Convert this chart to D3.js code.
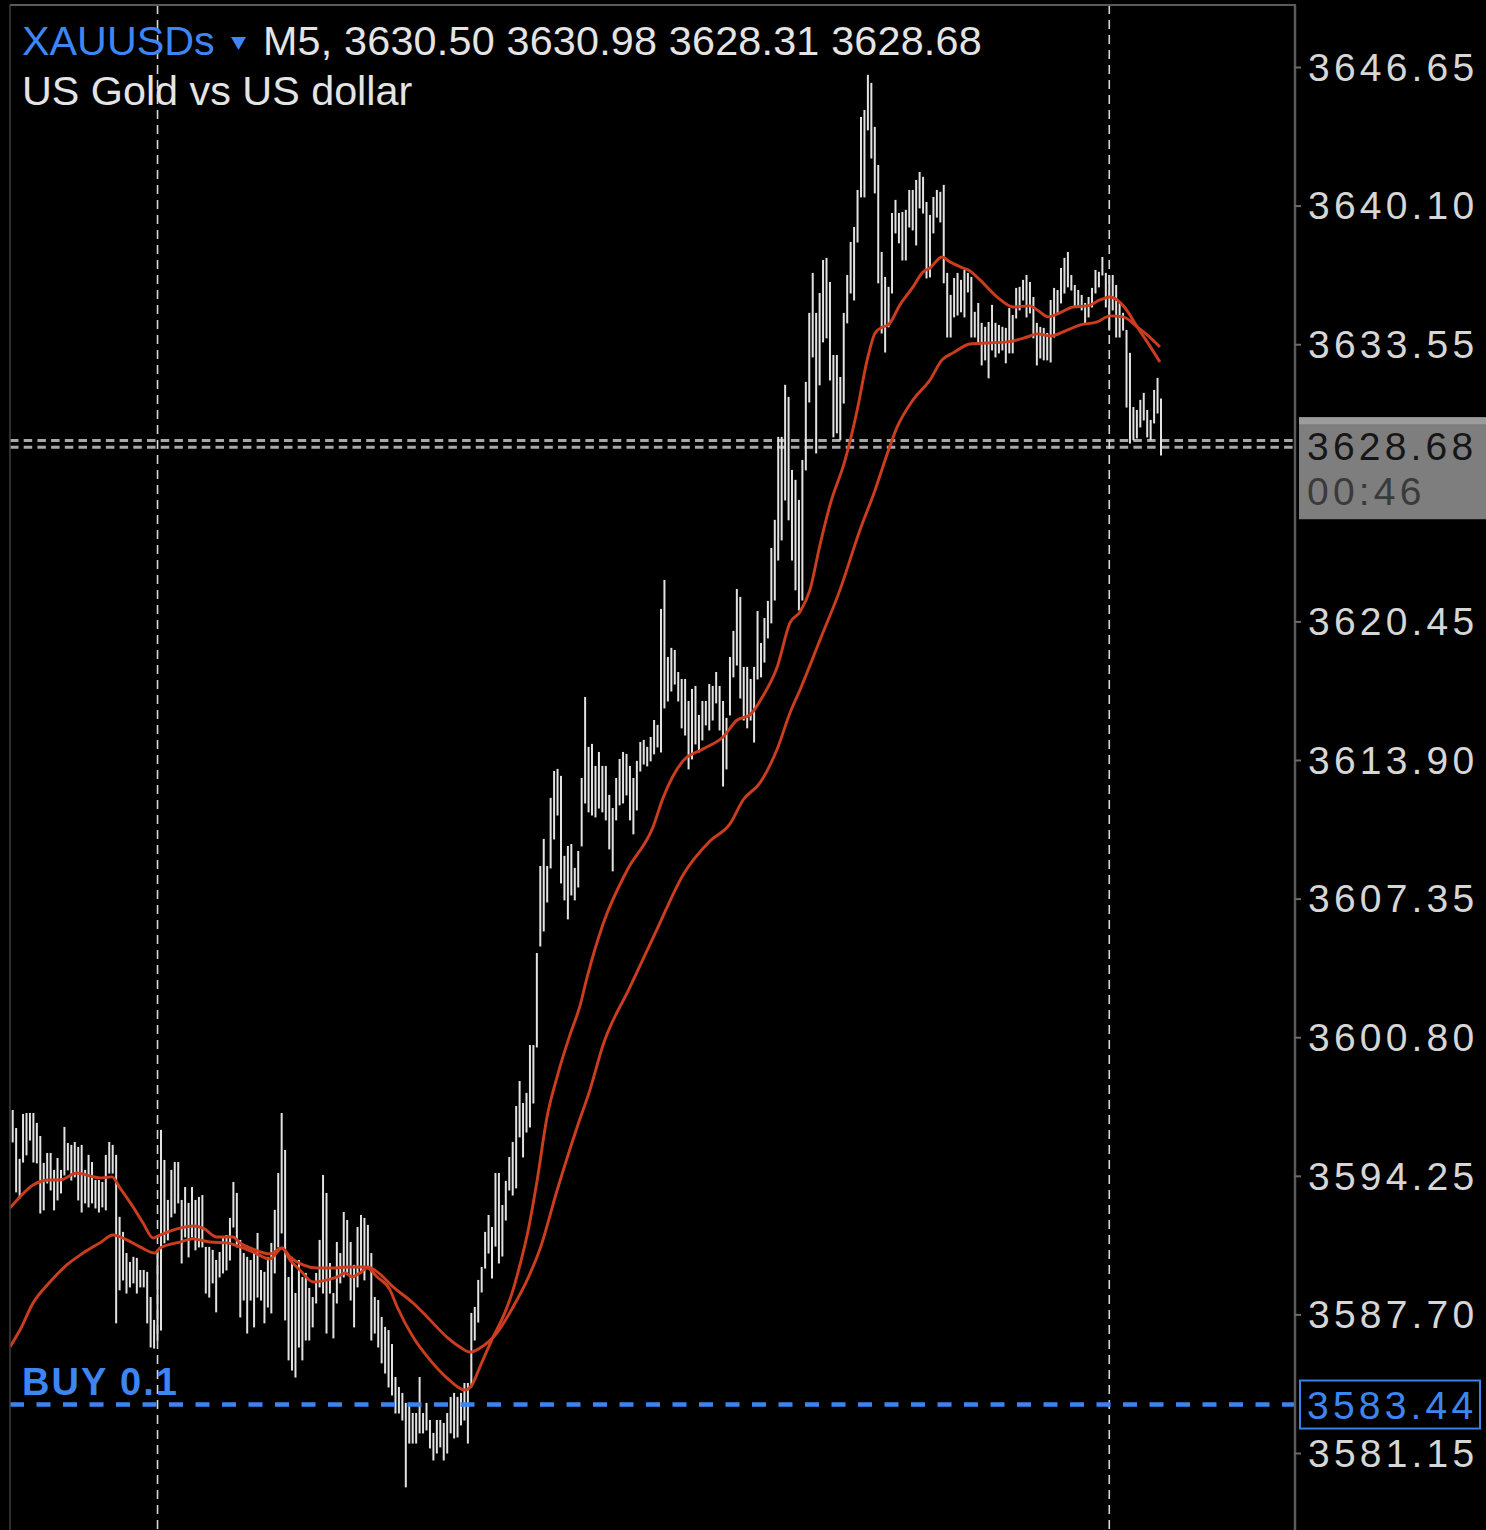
<!DOCTYPE html>
<html><head><meta charset="utf-8">
<script src="https://cdn.jsdelivr.net/npm/d3@7"></script>
<style>html,body{margin:0;padding:0;background:#000;overflow:hidden}svg{display:block}</style>
</head><body>
<svg id="chart" width="1486" height="1530"></svg>
<script>
// ---------------- DATA ----------------
const symbol = "XAUUSDs";
const timeframe = "M5";
const lastOHLC = [3630.50, 3630.98, 3628.31, 3628.68];
const description = "US Gold vs US dollar";
const bidPrice = 3628.68;
const askPrice = 3629.00;
const barTimer = "00:46";
const orderLabel = "BUY 0.1";
const orderPrice = 3583.44;
const tickValues = [3646.65, 3640.10, 3633.55, 3620.45, 3613.90, 3607.35, 3600.80, 3594.25, 3587.70, 3581.15];
const separatorBars = [42, 318];

const highs = [3597.36,3596.51,3595.05,3597.17,3597.22,3597.22,3597.22,3596.75,3596.13,3594.86,
3595.33,3595.33,3594.53,3595.09,3594.53,3596.56,3595.80,3595.71,3595.85,3595.61,
3595.71,3594.53,3595.24,3594.90,3594.05,3594.05,3593.96,3595.24,3595.85,3595.71,
3595.24,3592.31,3591.60,3590.60,3590.18,3590.42,3590.37,3589.80,3589.80,3589.71,
3588.52,3587.44,3590.75,3596.42,3595.00,3593.11,3594.53,3594.90,3594.90,3593.11,
3593.72,3592.97,3593.72,3593.11,3593.25,3593.34,3590.89,3590.89,3590.75,3590.27,
3590.65,3591.36,3591.45,3592.26,3593.96,3593.44,3591.22,3590.60,3590.42,3590.27,
3590.65,3591.55,3589.80,3589.71,3590.42,3591.08,3592.64,3594.38,3597.22,3595.47,
3589.47,3590.42,3588.71,3590.27,3589.47,3589.66,3588.95,3588.52,3589.66,3591.22,
3594.29,3593.44,3590.13,3588.71,3591.12,3590.60,3592.54,3592.16,3591.12,3590.04,
3591.83,3592.40,3592.26,3591.93,3590.60,3588.52,3588.38,3587.58,3587.11,3586.96,
3586.30,3584.74,3584.27,3583.99,3583.52,3583.52,3583.04,3583.04,3584.74,3583.04,
3583.52,3582.71,3582.10,3582.71,3582.71,3582.57,3583.04,3583.80,3583.99,3583.80,
3583.99,3584.46,3584.46,3587.77,3588.05,3589.33,3589.94,3591.60,3592.40,3591.83,
3594.38,3594.38,3592.87,3594.01,3595.14,3595.85,3597.55,3598.73,3597.69,3598.17,
3600.43,3600.43,3604.78,3608.89,3610.17,3608.89,3612.11,3613.38,3613.48,3613.15,
3609.37,3609.84,3609.93,3608.80,3609.60,3613.05,3616.88,3614.52,3614.66,3613.62,
3614.28,3613.62,3613.62,3612.25,3611.63,3613.05,3613.95,3614.28,3614.19,3613.62,
3613.05,3613.86,3614.75,3614.85,3614.52,3614.99,3615.79,3615.56,3621.04,3622.41,
3618.77,3619.20,3619.10,3618.06,3617.73,3617.73,3616.69,3617.26,3617.40,3616.03,
3616.69,3616.69,3617.49,3617.40,3618.06,3617.40,3616.69,3615.89,3618.77,3620.00,
3621.98,3621.61,3618.30,3618.30,3617.73,3618.30,3620.94,3619.43,3620.61,3621.42,
3623.92,3625.25,3629.17,3629.17,3631.63,3631.06,3627.61,3627.14,3626.19,3628.08,
3631.77,3635.03,3636.92,3635.03,3635.97,3637.53,3637.63,3636.49,3633.04,3633.04,
3632.00,3635.03,3636.82,3638.38,3639.09,3640.84,3644.29,3644.62,3646.28,3645.90,
3643.82,3642.02,3637.91,3636.73,3636.26,3639.75,3640.37,3639.75,3639.80,3639.90,
3640.84,3640.84,3641.31,3641.69,3641.46,3640.27,3639.66,3640.51,3640.84,3640.75,
3641.08,3636.92,3635.88,3636.68,3636.92,3636.59,3637.06,3636.92,3636.73,3635.08,
3635.50,3634.56,3634.37,3634.60,3635.41,3634.56,3634.46,3634.37,3634.32,3635.26,
3634.93,3636.21,3636.26,3636.59,3636.82,3636.49,3635.78,3634.56,3634.37,3634.32,
3634.08,3635.64,3636.21,3636.11,3637.15,3637.63,3637.91,3636.82,3636.35,3636.11,
3635.88,3635.50,3635.78,3636.21,3637.06,3636.97,3637.67,3636.92,3636.82,3636.82,
3636.35,3635.50,3635.03,3634.22,3633.14,3630.58,3630.44,3630.92,3631.25,3630.44,
3629.97,3631.39,3631.96,3630.98];

const lows = [3595.85,3593.49,3593.20,3594.90,3595.24,3595.94,3594.90,3594.86,3592.49,3592.64,
3593.91,3593.58,3592.64,3593.11,3593.44,3594.29,3594.53,3594.05,3594.20,3593.11,
3592.54,3592.97,3592.78,3592.97,3592.73,3592.54,3592.78,3592.64,3594.38,3594.38,
3587.30,3588.86,3589.33,3588.71,3589.00,3589.19,3588.71,3589.00,3589.00,3587.30,
3586.16,3586.11,3586.49,3586.96,3591.08,3591.22,3592.31,3592.49,3592.97,3590.13,
3591.36,3590.42,3591.36,3590.75,3590.89,3590.89,3588.71,3588.52,3589.19,3587.82,
3589.47,3589.66,3589.80,3590.27,3591.83,3590.89,3587.58,3588.38,3586.82,3588.38,
3587.11,3588.52,3588.38,3587.30,3588.05,3587.77,3589.66,3590.89,3591.55,3587.44,
3585.55,3585.07,3584.74,3586.16,3585.55,3586.49,3586.49,3587.11,3588.24,3589.00,
3588.71,3586.82,3588.71,3586.59,3588.24,3589.19,3589.47,3589.66,3588.38,3587.11,
3589.00,3589.66,3589.33,3589.94,3586.49,3586.82,3586.16,3585.41,3584.93,3584.27,
3583.89,3583.04,3583.04,3582.71,3579.55,3581.62,3581.62,3581.62,3582.10,3582.10,
3582.24,3581.39,3580.82,3581.15,3581.44,3580.82,3581.15,3582.10,3581.86,3581.91,
3582.48,3582.71,3581.62,3584.27,3586.49,3587.34,3588.76,3589.89,3590.60,3589.42,
3590.93,3590.13,3590.46,3592.16,3593.58,3593.34,3593.68,3596.09,3595.14,3596.32,
3596.56,3597.69,3600.34,3605.11,3605.82,3607.19,3608.80,3610.17,3611.30,3608.09,
3607.29,3606.39,3607.52,3607.29,3607.90,3609.84,3611.87,3611.45,3611.30,3611.21,
3611.63,3611.45,3611.07,3609.70,3608.66,3611.07,3611.78,3611.87,3612.25,3611.07,
3610.41,3611.54,3613.38,3613.71,3613.62,3613.86,3614.19,3614.52,3614.28,3616.36,
3616.69,3617.16,3617.49,3616.69,3615.42,3615.08,3613.48,3613.95,3614.66,3614.28,
3614.85,3615.56,3615.32,3615.79,3616.60,3615.32,3612.67,3613.48,3616.03,3617.83,
3618.39,3616.83,3615.79,3615.42,3615.79,3614.75,3617.73,3617.83,3618.53,3619.67,
3620.38,3621.46,3623.35,3624.30,3626.19,3625.25,3623.35,3621.94,3620.99,3621.46,
3627.61,3630.82,3632.95,3628.41,3631.63,3633.66,3633.85,3631.86,3629.17,3629.36,
3629.03,3630.77,3634.56,3635.97,3635.64,3638.38,3640.51,3640.51,3643.68,3642.35,
3640.70,3636.45,3634.08,3633.18,3634.37,3635.97,3638.81,3638.34,3637.53,3637.53,
3639.09,3638.95,3638.24,3639.99,3639.75,3636.68,3636.73,3638.81,3639.56,3639.33,
3636.45,3633.89,3633.89,3634.84,3634.93,3635.08,3634.84,3636.02,3633.89,3633.89,
3633.61,3632.57,3632.81,3631.96,3633.28,3632.95,3633.14,3633.28,3632.67,3633.14,
3633.14,3634.79,3635.17,3635.64,3634.84,3635.03,3633.85,3632.57,3632.90,3632.81,
3632.81,3632.71,3633.89,3635.03,3635.50,3635.97,3636.26,3636.11,3635.31,3635.31,
3635.17,3634.56,3634.84,3635.31,3635.97,3636.26,3636.82,3635.31,3634.22,3635.17,
3633.89,3633.89,3634.22,3630.58,3628.88,3629.03,3629.12,3629.64,3629.97,3629.17,
3629.03,3629.83,3630.30,3628.31];

// moving averages: [bar index, price]
const maFast = [[-0.8,3592.73],[2.1,3593.25],[5.9,3593.82],[10.8,3594.05],[13.7,3594.05],[18.6,3594.38],[22.4,3594.24],[25.3,3594.15],[28.8,3594.20],[31.1,3593.68],[34.9,3592.78],[37.8,3592.02],[40.7,3591.31],[42.7,3591.45],[48.5,3591.78],[52.3,3591.88],[55.2,3591.78],[59.2,3591.36],[63.9,3591.36],[65.9,3591.08],[69.7,3590.79],[74.6,3590.56],[78.1,3590.84],[80.4,3590.27],[83.3,3589.80],[87.1,3589.23],[91.2,3589.33],[94.1,3589.47],[96.4,3589.66],[98.4,3589.47],[100.7,3589.66],[102.8,3589.89],[105.7,3589.47],[109.4,3588.86],[111.5,3588.05],[116.1,3586.63],[121.0,3585.55],[125.9,3584.70],[131.2,3584.13],[133.2,3584.37],[135.5,3585.22],[139.3,3586.63],[142.2,3587.58],[145.1,3588.86],[147.1,3590.04],[149.5,3591.69],[152.1,3594.05],[154.9,3596.98],[158.1,3599.06],[161.6,3600.91],[164.5,3602.28],[166.6,3603.65],[171.2,3606.15],[178.2,3608.70],[185.7,3610.74],[188.6,3612.11],[194.4,3613.86],[200.2,3614.42],[206.0,3614.99],[210.1,3615.79],[213.8,3616.03],[217.6,3616.93],[221.7,3618.30],[225.4,3620.38],[228.3,3620.90],[231.2,3621.94],[234.1,3624.06],[237.0,3625.95],[241.4,3628.08],[244.9,3630.44],[247.8,3632.81],[250.1,3634.08],[252.4,3634.37],[253.9,3634.46],[257.3,3635.41],[261.1,3636.26],[264.0,3636.97],[266.0,3637.15],[269.5,3637.67],[271.8,3637.44],[275.6,3637.15],[277.6,3637.01],[280.5,3636.59],[285.5,3635.78],[290.1,3635.31],[295.0,3635.36],[297.1,3635.17],[300.3,3634.84],[303.7,3635.03],[307.5,3635.31],[311.6,3635.36],[315.3,3635.64],[318.2,3635.78],[320.3,3635.64],[322.6,3635.26],[326.1,3634.37],[329.0,3633.66],[332.7,3632.71]];

const maSlow = [[-0.8,3586.16],[2.1,3586.96],[5.9,3588.24],[10.8,3589.23],[15.7,3590.04],[20.4,3590.60],[25.3,3591.08],[29.1,3591.45],[33.1,3591.22],[36.9,3590.89],[41.3,3590.60],[42.7,3590.84],[48.5,3591.12],[52.3,3591.27],[57.2,3591.12],[62.1,3591.08],[65.9,3590.89],[69.7,3590.65],[74.6,3590.32],[78.1,3590.84],[80.4,3590.42],[84.2,3590.04],[88.3,3589.89],[92.9,3589.89],[96.9,3589.94],[102.8,3589.94],[105.7,3589.71],[110.3,3589.00],[116.1,3588.24],[120.2,3587.58],[125.9,3586.63],[129.7,3586.16],[132.6,3585.92],[135.5,3586.11],[140.4,3586.82],[145.1,3588.05],[149.2,3589.33],[152.9,3590.79],[157.9,3593.58],[163.7,3596.56],[167.4,3598.31],[171.2,3600.43],[179.0,3603.17],[186.9,3605.92],[194.4,3608.47],[202.2,3610.07],[208.0,3610.88],[211.8,3612.01],[216.7,3612.82],[221.7,3614.42],[225.4,3616.12],[228.3,3617.21],[234.1,3619.57],[239.9,3621.94],[245.7,3624.77],[250.1,3626.66],[253.0,3628.08],[256.5,3629.64],[261.1,3630.92],[266.0,3631.86],[269.5,3632.81],[272.7,3633.14],[277.6,3633.56],[282.6,3633.61],[288.4,3633.66],[294.2,3633.89],[297.1,3634.04],[300.9,3633.94],[305.8,3634.22],[309.6,3634.46],[314.5,3634.60],[318.2,3634.89],[322.0,3634.84],[326.1,3634.37],[329.0,3633.99],[332.7,3633.42]];

// ---------------- LAYOUT ----------------
const W = 1486, H = 1530;
const plot = {left: 10, right: 1295, top: 5, bottom: 1530};
const FONT = "'Liberation Sans', Arial, Helvetica, sans-serif";

const svg = d3.select("#chart");
svg.append("rect").attr("width", W).attr("height", H).attr("fill", "#000");

const x = d3.scaleLinear().domain([0, highs.length - 1]).range([12.7, 1161]);
const y = d3.scaleLinear().domain([3581.15, 3646.65]).range([1453, 67]);

svg.append("clipPath").attr("id", "plotclip")
  .append("rect").attr("x", plot.left).attr("y", plot.top)
  .attr("width", plot.right - plot.left).attr("height", plot.bottom - plot.top);

const g = svg.append("g").attr("clip-path", "url(#plotclip)");

// bid / ask lines
[askPrice, bidPrice].forEach(p => {
  g.append("line").attr("x1", plot.left).attr("x2", plot.right)
    .attr("y1", y(p)).attr("y2", y(p))
    .attr("stroke", "#a8a8a8").attr("stroke-width", 3).attr("stroke-dasharray", "8.5,5.2");
});

// bars
const bars = highs.map((h, i) => ({i, h, l: lows[i]}));
g.append("g").selectAll("line").data(bars).join("line")
  .attr("x1", d => x(d.i)).attr("x2", d => x(d.i))
  .attr("y1", d => y(d.h)).attr("y2", d => y(d.l) + 0.5)
  .attr("stroke", "#e2e2e2").attr("stroke-width", 2);

// period separators
g.append("g").selectAll("line").data(separatorBars).join("line")
  .attr("x1", d => x(d)).attr("x2", d => x(d))
  .attr("y1", plot.top).attr("y2", plot.bottom)
  .attr("stroke", "#d6d6d6").attr("stroke-width", 1.6).attr("stroke-dasharray", "9,6");

// moving averages
const line = d3.line().x(d => x(d[0])).y(d => y(d[1])).curve(d3.curveMonotoneX);
[maSlow, maFast].forEach(ma => {
  g.append("path").datum(ma).attr("d", line)
    .attr("fill", "none").attr("stroke", "#cc3d1f").attr("stroke-width", 2.9)
    .attr("stroke-linejoin", "round");
});

// order line
g.append("line").attr("x1", plot.left).attr("x2", plot.right)
  .attr("y1", y(orderPrice)).attr("y2", y(orderPrice))
  .attr("stroke", "#3d84ee").attr("stroke-width", 4.5).attr("stroke-dasharray", "14,12.5");

g.append("text").attr("x", 22).attr("y", y(orderPrice) - 10)
  .attr("font-family", FONT).attr("font-size", 38).attr("font-weight", "bold")
  .attr("letter-spacing", 2).attr("fill", "#3d86f2").text(orderLabel);

// frame
svg.append("line").attr("x1", plot.left).attr("x2", plot.left).attr("y1", plot.top).attr("y2", H)
  .attr("stroke", "#3e3e3e").attr("stroke-width", 1.5);
svg.append("line").attr("x1", plot.left).attr("x2", plot.right + 1).attr("y1", plot.top).attr("y2", plot.top)
  .attr("stroke", "#5a5a5a").attr("stroke-width", 2);
svg.append("line").attr("x1", plot.right).attr("x2", plot.right).attr("y1", plot.top).attr("y2", H)
  .attr("stroke", "#5a5a5a").attr("stroke-width", 2.5);

// y axis
const yAxis = d3.axisRight(y).tickValues(tickValues).tickSize(6).tickPadding(7)
  .tickFormat(d3.format(".2f"));
const ax = svg.append("g").attr("transform", `translate(${plot.right},0)`).call(yAxis);
ax.select(".domain").remove();
ax.selectAll(".tick line").attr("stroke", "#6a6a6a").attr("stroke-width", 2);
ax.selectAll(".tick text").attr("font-family", FONT).attr("font-size", 39)
  .attr("letter-spacing", 4.2).attr("fill", "#d6d6d6").attr("dy", "0.34em");

// current price box
const by = y(bidPrice);
svg.append("rect").attr("x", 1299).attr("y", by - 30).attr("width", W - 1299).attr("height", 102).attr("fill", "#7e7e7e");
svg.append("rect").attr("x", 1299).attr("y", by - 30).attr("width", W - 1299).attr("height", 7).attr("fill", "#9c9c9c");
svg.append("text").attr("x", 1307).attr("y", by + 13).attr("font-family", FONT).attr("font-size", 39)
  .attr("letter-spacing", 4.2).attr("fill", "#161616").text(d3.format(".2f")(bidPrice));
svg.append("text").attr("x", 1307).attr("y", by + 58).attr("font-family", FONT).attr("font-size", 39)
  .attr("letter-spacing", 4.2).attr("fill", "#3a3a3a").text(barTimer);

// order price box
const oy = y(orderPrice);
svg.append("rect").attr("x", 1300).attr("y", oy - 24).attr("width", 180).attr("height", 48)
  .attr("fill", "#000").attr("stroke", "#3b7fe8").attr("stroke-width", 2);
svg.append("text").attr("x", 1307).attr("y", oy + 14).attr("font-family", FONT).attr("font-size", 39)
  .attr("letter-spacing", 4.2).attr("fill", "#3d86f2").text(d3.format(".2f")(orderPrice));

// title
const fmt = d3.format(".2f");
svg.append("text").attr("x", 22).attr("y", 55).attr("font-family", FONT).attr("font-size", 41.3)
  .attr("fill", "#3d86f5").text(symbol);
svg.append("path").attr("d", "M231,37 L246,37 L238.5,50 Z").attr("fill", "#3d86f5");
svg.append("text").attr("x", 263).attr("y", 55).attr("font-family", FONT).attr("font-size", 41.3)
  .attr("letter-spacing", 0.2).attr("fill", "#e4e4e4").text(`${timeframe}, ${lastOHLC.map(fmt).join(" ")}`);
svg.append("text").attr("x", 22).attr("y", 105).attr("font-family", FONT).attr("font-size", 41.3)
  .attr("fill", "#e4e4e4").text(description);
</script>
</body></html>
